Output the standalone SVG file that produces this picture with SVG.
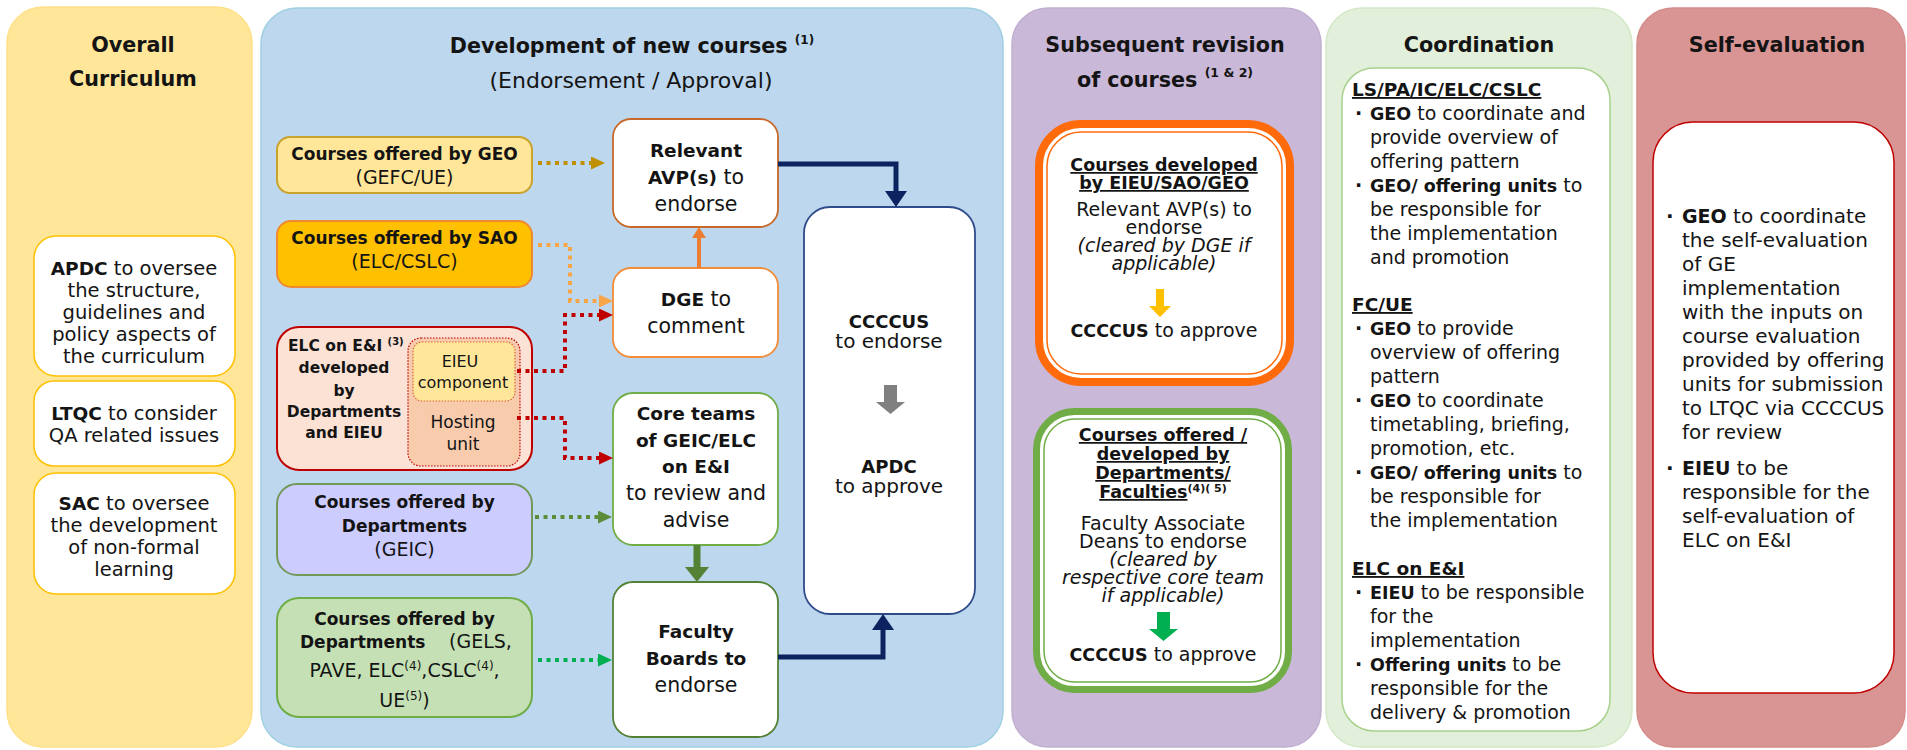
<svg xmlns="http://www.w3.org/2000/svg" width="1907" height="750" viewBox="0 0 1907 750">
<defs>
<style>
text{font-family:"DejaVu Sans","Liberation Sans",sans-serif;fill:#141414}
.b{font-weight:bold}
.i{font-style:italic}
.u{text-decoration:underline}
.m{text-anchor:middle}
.title{font-size:20.7px;font-weight:bold;text-anchor:middle}
.p1{font-size:19.5px}
.p1b{font-size:18.5px;font-weight:bold}
.lb{font-size:17px;font-weight:bold}
.lr{font-size:19px}
.nb{font-size:18.5px;font-weight:bold}
.nr{font-size:20.5px}
.sup{font-size:12px}
.co{font-size:19px}
.cob{font-size:17.5px;font-weight:bold}
.se{font-size:20px}
.seb{font-size:19px;font-weight:bold}
.r3{font-size:19px}
.r3b{font-size:17.5px;font-weight:bold}
.panel{stroke-width:1.5}
.wbox{fill:#fff;stroke-width:1.8}
.ybox{fill:#fff;stroke:#FFC000;stroke-width:1.5}
.dot{fill:none;stroke-width:4;stroke-dasharray:4 4.5}
</style>
<marker id="ahGold" markerUnits="userSpaceOnUse" markerWidth="14" markerHeight="13" refX="0" refY="6.5" orient="auto"><path d="M0,0L14,6.5L0,13z" fill="#BF9000"/></marker>
<marker id="ahLOr" markerUnits="userSpaceOnUse" markerWidth="14" markerHeight="13" refX="0" refY="6.5" orient="auto"><path d="M0,0L14,6.5L0,13z" fill="#F8A548"/></marker>
<marker id="ahRed" markerUnits="userSpaceOnUse" markerWidth="14" markerHeight="13" refX="0" refY="6.5" orient="auto"><path d="M0,0L14,6.5L0,13z" fill="#C00000"/></marker>
<marker id="ahOl" markerUnits="userSpaceOnUse" markerWidth="14" markerHeight="13" refX="0" refY="6.5" orient="auto"><path d="M0,0L14,6.5L0,13z" fill="#5B8C3A"/></marker>
<marker id="ahGr" markerUnits="userSpaceOnUse" markerWidth="14" markerHeight="13" refX="0" refY="6.5" orient="auto"><path d="M0,0L14,6.5L0,13z" fill="#00B050"/></marker>
<marker id="ahNavy" markerUnits="userSpaceOnUse" markerWidth="16" markerHeight="22" refX="0" refY="11" orient="auto"><path d="M0,0L16,11L0,22z" fill="#0B2460"/></marker>
<marker id="ahOr" markerUnits="userSpaceOnUse" markerWidth="11" markerHeight="14" refX="0" refY="7" orient="auto"><path d="M0,0L11,7L0,14z" fill="#ED7D31"/></marker>
<marker id="ahDG" markerUnits="userSpaceOnUse" markerWidth="15" markerHeight="24" refX="0" refY="12" orient="auto"><path d="M0,0L15,12L0,24z" fill="#548235"/></marker>
</defs>

<!-- Panels -->
<g id="panels">
<rect id="panel-overall" x="7" y="7" width="245" height="740" rx="36" fill="#FFE699" class="panel" stroke="#FFE08A"/>
<rect id="panel-development" x="261" y="8" width="742" height="739" rx="36" fill="#BDD7EE" class="panel" stroke="#9FCFE2"/>
<rect id="panel-revision" x="1012" y="8" width="309" height="739" rx="36" fill="#C9B8D7" class="panel" stroke="#C0AFD0"/>
<rect id="panel-coordination" x="1326" y="8" width="306" height="739" rx="36" fill="#E2EFDA" class="panel" stroke="#D3E8C7"/>
<rect id="panel-selfeval" x="1637" y="8" width="268" height="739" rx="36" fill="#D99594" class="panel" stroke="#D48C8B"/>
</g>

<!-- Panel titles -->
<g id="titles">
<text class="title" x="133" y="52">Overall</text>
<text class="title" x="133" y="86">Curriculum</text>
<text class="title" x="632" y="53">Development of new courses <tspan font-size="12px" dy="-9">(1)</tspan></text>
<text class="m" x="631" y="88" font-size="22px">(Endorsement / Approval)</text>
<text class="title" x="1165" y="52">Subsequent revision</text>
<text class="title" x="1165" y="87">of courses <tspan font-size="12.5px" dy="-10">(1 &amp; 2)</tspan></text>
<text class="title" x="1479" y="52">Coordination</text>
<text class="title" x="1777" y="52">Self-evaluation</text>
</g>

<!-- Overall Curriculum nodes -->
<g id="node-apdc-oversee">
<rect class="ybox" x="34" y="236" width="201" height="140" rx="22"/>
<text class="m p1" x="134" y="275"><tspan class="p1b">APDC</tspan> to oversee</text>
<text class="m p1" x="134" y="297">the structure,</text>
<text class="m p1" x="134" y="319">guidelines and</text>
<text class="m p1" x="134" y="341">policy aspects of</text>
<text class="m p1" x="134" y="363">the curriculum</text>
</g>
<g id="node-ltqc">
<rect class="ybox" x="34" y="381" width="201" height="85" rx="20"/>
<text class="m p1" x="134" y="420"><tspan class="p1b">LTQC</tspan> to consider</text>
<text class="m p1" x="134" y="442">QA related issues</text>
</g>
<g id="node-sac">
<rect class="ybox" x="34" y="473" width="201" height="121" rx="22"/>
<text class="m p1" x="134" y="510"><tspan class="p1b">SAC</tspan> to oversee</text>
<text class="m p1" x="134" y="532">the development</text>
<text class="m p1" x="134" y="554">of non-formal</text>
<text class="m p1" x="134" y="576">learning</text>
</g>

<!-- Development: source nodes -->
<g id="node-geo">
<rect x="277" y="137" width="255" height="56" rx="13" fill="#FFE699" stroke="#C9A32E" stroke-width="2"/>
<text class="m lb" x="404.5" y="160">Courses offered by GEO</text>
<text class="m lr" x="404.5" y="184">(GEFC/UE)</text>
</g>
<g id="node-sao">
<rect x="277" y="221" width="255" height="66" rx="14" fill="#FFC000" stroke="#F08A30" stroke-width="2"/>
<text class="m lb" x="404.5" y="244">Courses offered by SAO</text>
<text class="m lr" x="404.5" y="268">(ELC/CSLC)</text>
</g>
<g id="node-elc">
<rect x="277" y="327" width="255" height="143" rx="22" fill="#FBE2D5" stroke="#C00000" stroke-width="2"/>
<rect x="408" y="338" width="112" height="128" rx="13" fill="#F8CBAD" stroke="#C00000" stroke-width="1.2" stroke-dasharray="1.5 1.5"/>
<rect x="413" y="342" width="102" height="59" rx="9" fill="#FFE699" stroke="#D9663A" stroke-width="1.2" stroke-dasharray="1.5 1.5"/>
<text class="b" x="288" y="351" font-size="15.5px">ELC on E&amp;I <tspan font-size="10px" dy="-6">(3)</tspan></text>
<text class="m b" x="344" y="373" font-size="15.5px">developed</text>
<text class="m b" x="344" y="396" font-size="15.5px">by</text>
<text class="m b" x="344" y="417" font-size="15.5px">Departments</text>
<text class="m b" x="344" y="438" font-size="15.5px">and EIEU</text>
<text class="m" x="460" y="367" font-size="16px">EIEU</text>
<text class="m" x="463" y="388" font-size="16px">component</text>
<text class="m" x="463" y="428" font-size="17px">Hosting</text>
<text class="m" x="463" y="450" font-size="17px">unit</text>
</g>
<g id="node-geic">
<rect x="277" y="484" width="255" height="91" rx="20" fill="#CCCCFF" stroke="#72995A" stroke-width="2"/>
<text class="m lb" x="404.5" y="508">Courses offered by</text>
<text class="m lb" x="404.5" y="532">Departments</text>
<text class="m lr" x="404.5" y="556">(GEIC)</text>
</g>
<g id="node-gels">
<rect x="277" y="598" width="255" height="119" rx="22" fill="#C5E0B4" stroke="#70AD47" stroke-width="2"/>
<text class="m lb" x="404.5" y="625">Courses offered by</text>
<text x="300" y="648"><tspan class="lb">Departments</tspan><tspan class="lr" x="449">(GELS,</tspan></text>
<text class="m lr" x="404.5" y="677">PAVE, ELC<tspan class="sup" dy="-7">(4)</tspan><tspan dy="7">,CSLC</tspan><tspan class="sup" dy="-7">(4)</tspan><tspan dy="7">,</tspan></text>
<text class="m lr" x="404.5" y="707">UE<tspan class="sup" dy="-7">(5)</tspan><tspan dy="7">)</tspan></text>
</g>

<!-- Development: process nodes -->
<g id="node-avp">
<rect class="wbox" x="613" y="119" width="165" height="108" rx="18" stroke="#C8692A"/>
<text class="m nb" x="696" y="157">Relevant</text>
<text class="m nr" x="696" y="184"><tspan class="nb">AVP(s)</tspan> to</text>
<text class="m nr" x="696" y="211">endorse</text>
</g>
<g id="node-dge">
<rect class="wbox" x="613" y="268" width="165" height="89" rx="18" stroke="#F28C38"/>
<text class="m nr" x="696" y="306"><tspan class="nb">DGE</tspan> to</text>
<text class="m nr" x="696" y="333">comment</text>
</g>
<g id="node-core">
<rect class="wbox" x="613" y="393" width="165" height="152" rx="20" stroke="#70AD47"/>
<text class="m nb" x="696" y="420">Core teams</text>
<text class="m nb" x="696" y="447">of GEIC/ELC</text>
<text class="m nb" x="696" y="473">on E&amp;I</text>
<text class="m nr" x="696" y="500">to review and</text>
<text class="m nr" x="696" y="527">advise</text>
</g>
<g id="node-faculty">
<rect class="wbox" x="613" y="582" width="165" height="155" rx="20" stroke="#548235"/>
<text class="m nb" x="696" y="638">Faculty</text>
<text class="m nb" x="696" y="665">Boards to</text>
<text class="m nr" x="696" y="692">endorse</text>
</g>
<g id="node-ccccus">
<rect class="wbox" x="804" y="207" width="171" height="407" rx="26" stroke="#2F4B8A" stroke-width="1.5"/>
<text class="m b" x="889" y="328" font-size="18px">CCCCUS</text>
<text class="m" x="889" y="348" font-size="20px">to endorse</text>
<polygon points="884,385 897,385 897,402 905,402 890.5,414 876,402 884,402" fill="#808080"/>
<text class="m b" x="889" y="473" font-size="18px">APDC</text>
<text class="m" x="889" y="493" font-size="20px">to approve</text>
</g>

<!-- Connectors -->
<g id="connectors">
<path class="dot" d="M538,163H591" stroke="#BF9000" marker-end="url(#ahGold)"/>
<path class="dot" d="M538,245H570V301H599" stroke="#F8A548" marker-end="url(#ahLOr)"/>
<path class="dot" d="M517,371H565V315H599" stroke="#C00000" marker-end="url(#ahRed)"/>
<path class="dot" d="M517,418H565V458H599" stroke="#C00000" marker-end="url(#ahRed)"/>
<path class="dot" d="M535,517H598" stroke="#5B8C3A" marker-end="url(#ahOl)"/>
<path class="dot" d="M538,660H598" stroke="#00B050" marker-end="url(#ahGr)"/>
<path d="M699,268V238" fill="none" stroke="#ED7D31" stroke-width="4" marker-end="url(#ahOr)"/>
<path d="M697,545V567" fill="none" stroke="#548235" stroke-width="7" marker-end="url(#ahDG)"/>
<path d="M778,164H896V191" fill="none" stroke="#0B2460" stroke-width="5" marker-end="url(#ahNavy)"/>
<path d="M778,657H883V630" fill="none" stroke="#0B2460" stroke-width="5" marker-end="url(#ahNavy)"/>
</g>

<!-- Subsequent revision nodes -->
<g id="node-rev-eieu">
<rect x="1039" y="124" width="251" height="258" rx="42" fill="#fff" stroke="#FF6A0A" stroke-width="8"/>
<rect x="1047" y="132" width="235" height="242" rx="34" fill="none" stroke="#FF6A0A" stroke-width="1.5"/>
<text class="m r3b u" x="1164" y="171">Courses developed</text>
<text class="m r3b u" x="1164" y="189">by EIEU/SAO/GEO</text>
<text class="m r3" x="1164" y="216">Relevant AVP(s) to</text>
<text class="m r3" x="1164" y="234">endorse</text>
<text class="m r3 i" x="1164" y="252">(cleared by DGE if</text>
<text class="m r3 i" x="1164" y="270">applicable)</text>
<polygon points="1156,289 1164,289 1164,306 1171,306 1160,317 1149,306 1156,306" fill="#FFC000"/>
<text class="m r3" x="1164" y="337"><tspan class="r3b">CCCCUS</tspan> to approve</text>
</g>
<g id="node-rev-dept">
<rect x="1036.5" y="411.5" width="252" height="278" rx="38" fill="#fff" stroke="#70AD47" stroke-width="7"/>
<rect x="1044" y="419" width="237" height="263" rx="31" fill="none" stroke="#70AD47" stroke-width="1.5"/>
<text class="m r3b u" x="1163" y="441">Courses offered /</text>
<text class="m r3b u" x="1163" y="460">developed by</text>
<text class="m r3b u" x="1163" y="479">Departments/</text>
<text class="m r3b" x="1163" y="498"><tspan class="u">Faculties</tspan><tspan font-size="11px" dy="-6">(4)( 5)</tspan></text>
<text class="m r3" x="1163" y="530">Faculty Associate</text>
<text class="m r3" x="1163" y="548">Deans to endorse</text>
<text class="m r3 i" x="1163" y="566">(cleared by</text>
<text class="m r3 i" x="1163" y="584">respective core team</text>
<text class="m r3 i" x="1163" y="602">if applicable)</text>
<polygon points="1157,612 1170,612 1170,629 1178,629 1163.5,641 1149,629 1157,629" fill="#00B050"/>
<text class="m r3" x="1163" y="661"><tspan class="r3b">CCCCUS</tspan> to approve</text>
</g>

<!-- Coordination -->
<g id="node-coordination">
<rect x="1342" y="68" width="268" height="663" rx="32" fill="#fff" stroke="#A9D18E" stroke-width="1.5"/>
<text class="b u" x="1352" y="96" font-size="18.5px">LS/PA/IC/ELC/CSLC</text>
<text class="co b" x="1355" y="120">·</text><text class="co" x="1370" y="120"><tspan class="cob">GEO</tspan> to coordinate and</text>
<text class="co" x="1370" y="144">provide overview of</text>
<text class="co" x="1370" y="168">offering pattern</text>
<text class="co b" x="1355" y="192">·</text><text class="co" x="1370" y="192"><tspan class="cob">GEO/ offering units</tspan> to</text>
<text class="co" x="1370" y="216">be responsible for</text>
<text class="co" x="1370" y="240">the implementation</text>
<text class="co" x="1370" y="264">and promotion</text>
<text class="b u" x="1352" y="311" font-size="18.5px">FC/UE</text>
<text class="co b" x="1355" y="335">·</text><text class="co" x="1370" y="335"><tspan class="cob">GEO</tspan> to provide</text>
<text class="co" x="1370" y="359">overview of offering</text>
<text class="co" x="1370" y="383">pattern</text>
<text class="co b" x="1355" y="407">·</text><text class="co" x="1370" y="407"><tspan class="cob">GEO</tspan> to coordinate</text>
<text class="co" x="1370" y="431">timetabling, briefing,</text>
<text class="co" x="1370" y="455">promotion, etc.</text>
<text class="co b" x="1355" y="479">·</text><text class="co" x="1370" y="479"><tspan class="cob">GEO/ offering units</tspan> to</text>
<text class="co" x="1370" y="503">be responsible for</text>
<text class="co" x="1370" y="527">the implementation</text>
<text class="b u" x="1352" y="575" font-size="18.5px">ELC on E&amp;I</text>
<text class="co b" x="1355" y="599">·</text><text class="co" x="1370" y="599"><tspan class="cob">EIEU</tspan> to be responsible</text>
<text class="co" x="1370" y="623">for the</text>
<text class="co" x="1370" y="647">implementation</text>
<text class="co b" x="1355" y="671">·</text><text class="co" x="1370" y="671"><tspan class="cob">Offering units</tspan> to be</text>
<text class="co" x="1370" y="695">responsible for the</text>
<text class="co" x="1370" y="719">delivery &amp; promotion</text>
</g>

<!-- Self-evaluation -->
<g id="node-selfeval">
<rect x="1653" y="122" width="241" height="571" rx="40" fill="#fff" stroke="#C00000" stroke-width="1.5"/>
<text class="se b" x="1666" y="223">·</text><text class="se" x="1682" y="223"><tspan class="seb">GEO</tspan> to coordinate</text>
<text class="se" x="1682" y="247">the self-evaluation</text>
<text class="se" x="1682" y="271">of GE</text>
<text class="se" x="1682" y="295">implementation</text>
<text class="se" x="1682" y="319">with the inputs on</text>
<text class="se" x="1682" y="343">course evaluation</text>
<text class="se" x="1682" y="367">provided by offering</text>
<text class="se" x="1682" y="391">units for submission</text>
<text class="se" x="1682" y="415">to LTQC via CCCCUS</text>
<text class="se" x="1682" y="439">for review</text>
<text class="se b" x="1666" y="475">·</text><text class="se" x="1682" y="475"><tspan class="seb">EIEU</tspan> to be</text>
<text class="se" x="1682" y="499">responsible for the</text>
<text class="se" x="1682" y="523">self-evaluation of</text>
<text class="se" x="1682" y="547">ELC on E&amp;I</text>
</g>
</svg>
